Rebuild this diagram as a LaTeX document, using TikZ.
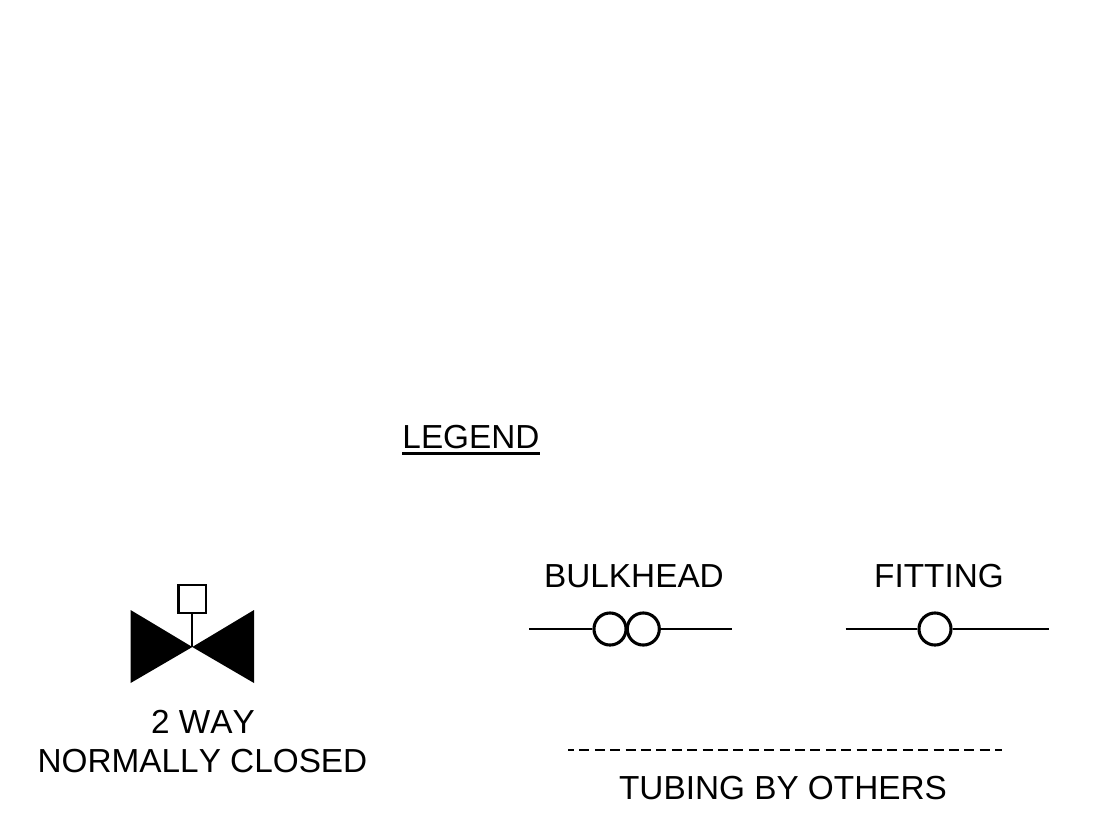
\documentclass[tikz,border=0pt]{standalone}
\usepackage{fontspec}
\setmainfont[Kerning=Off]{Liberation Sans}
\usetikzlibrary{positioning}
\tikzset{
  legendtext/.style={inner sep=0pt,align=center,font=\fontsize{23.7}{27.7}\selectfont},
  tubeline/.style={line width=1.65pt},
  ringnode/.style={circle,draw,line width=2.2pt,minimum size=22.8pt,inner sep=0pt},
  handbox/.style={rectangle,draw,line width=1.6pt,minimum size=19.6pt,inner sep=0pt}
}
\begin{document}
\begin{tikzpicture}[x=0.025cm,y=-0.025cm]
        \useasboundingbox (0,0) rectangle (1112,825);
        % Title
        \node[legendtext,anchor=base] (legend) at (471,448.5) {LEGEND};
        \draw[line width=2.1pt] ([yshift=-3.6pt]legend.base west) -- ([yshift=-3.6pt]legend.base east);
        % Valve
        \coordinate (V) at (192.3,647);
        \fill (V) -- (130.6,610) -- (130.6,683) -- cycle;
        \fill (V) -- (254,610) -- (254,683) -- cycle;
        \node[handbox] (hand) at (192.3,599) {};
        \draw[tubeline] (hand) -- (V);
        \node[legendtext,anchor=base] (way) at (203,733) {2 WAY};
        \node[legendtext,anchor=base] (closed) at (202.5,772) {NORMALLY CLOSED};
        % Bulkhead
        \node[legendtext,anchor=base] (bulkhead) at (634,587) {BULKHEAD};
        \node[ringnode] (bulkA) at (610,629) {};
        \node[ringnode] (bulkB) at (643.3,629) {};
        \coordinate (bulkL) at (529,629);
        \coordinate (bulkR) at (731.5,629);
        \draw[tubeline] (bulkL) -- (bulkA);
        \draw[tubeline] (bulkB) -- (bulkR);
        % Fitting
        \node[legendtext,anchor=base] (fitting) at (939,587) {FITTING};
        \node[ringnode] (fit) at (935,629) {};
        \coordinate (fitL) at (845.5,629);
        \coordinate (fitR) at (1048.5,629);
        \draw[tubeline] (fitL) -- (fit);
        \draw[tubeline] (fit) -- (fitR);
        % Tubing
        \coordinate (tubeL) at (568,750);
        \coordinate (tubeR) at (1002,750);
        \draw[tubeline,dash pattern=on 7.1pt off 3.85pt,dash phase=2.85pt] (tubeL) -- (tubeR);
        \node[legendtext,anchor=base] (tubing) at (783,799.5) {TUBING BY OTHERS};
    \end{tikzpicture}
\end{document}
